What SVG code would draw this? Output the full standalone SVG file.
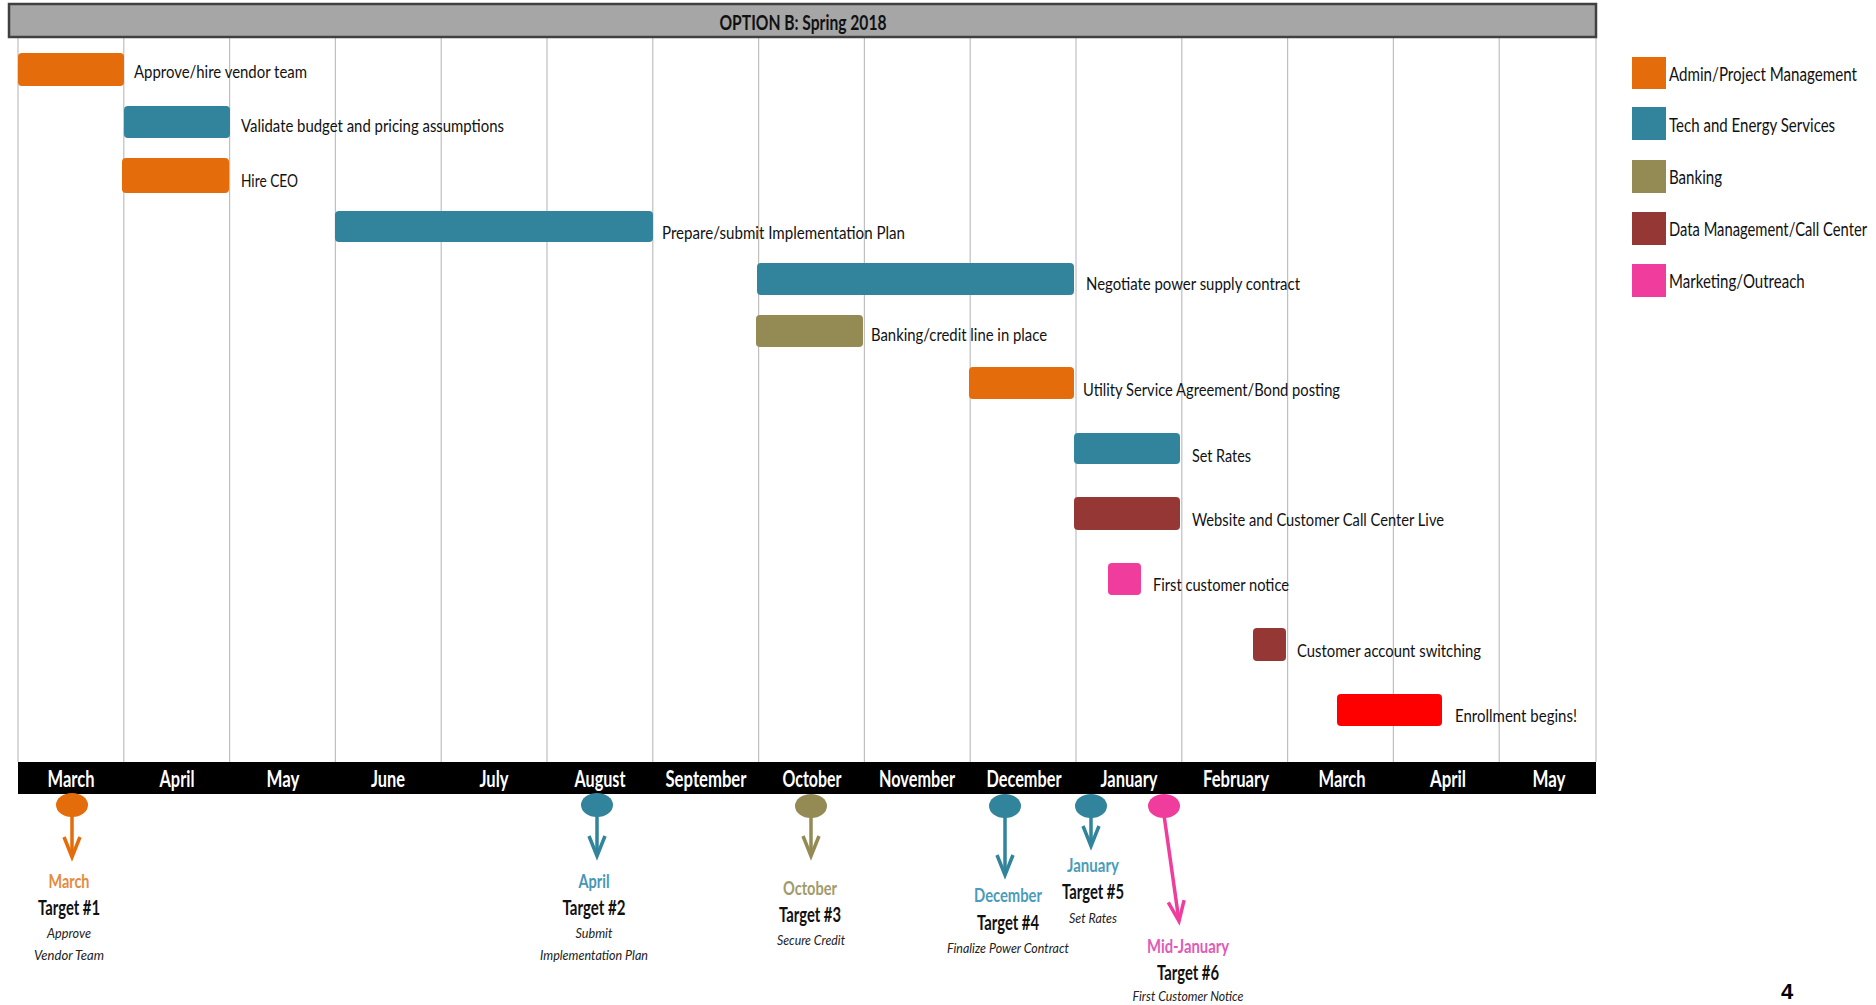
<svg xmlns="http://www.w3.org/2000/svg" width="1876" height="1005" viewBox="0 0 1876 1005">
<style>
text{font-family:Lato,"Open Sans","Liberation Sans",sans-serif}
.lbl{font-size:18px;fill:#111}
.leg{font-size:20px;fill:#111}
.mon{font-size:22px;font-weight:bold;fill:#fff;text-anchor:middle}
.grid{stroke:#bfbfbf;stroke-width:1.2}
.bar{rx:4;ry:4}
.org{fill:#e46c0a}.teal{fill:#31849b}.olv{fill:#948a54}.dred{fill:#953735}.pink{fill:#f03c9c}.red{fill:#ff0000}
.mh{font-size:18px;font-weight:bold;text-anchor:middle}
.tg{font-size:20px;font-weight:bold;fill:#111;text-anchor:middle}
.it{font-size:14px;font-style:italic;fill:#222;text-anchor:middle}
.arr{fill:none;stroke-width:3.5}
</style>
<defs>
<marker id="mOrg" markerUnits="userSpaceOnUse" markerWidth="1" markerHeight="1" orient="auto" overflow="visible"><path d="M-20,-8 L0,0 L-20,8" fill="none" stroke="#e46c0a" stroke-width="3.5"/></marker>
<marker id="mTeal" markerUnits="userSpaceOnUse" markerWidth="1" markerHeight="1" orient="auto" overflow="visible"><path d="M-20,-8 L0,0 L-20,8" fill="none" stroke="#31849b" stroke-width="3.5"/></marker>
<marker id="mOlv" markerUnits="userSpaceOnUse" markerWidth="1" markerHeight="1" orient="auto" overflow="visible"><path d="M-20,-8 L0,0 L-20,8" fill="none" stroke="#948a54" stroke-width="3.5"/></marker>
<marker id="mPink" markerUnits="userSpaceOnUse" markerWidth="1" markerHeight="1" orient="auto" overflow="visible"><path d="M-20,-8 L0,0 L-20,8" fill="none" stroke="#f03c9c" stroke-width="3.5"/></marker>
</defs>
<rect width="1876" height="1005" fill="#fff"/>

<g id="grid">
<line class="grid" x1="18" y1="37" x2="18" y2="762"/>
<line class="grid" x1="123.8" y1="37" x2="123.8" y2="762"/>
<line class="grid" x1="229.6" y1="37" x2="229.6" y2="762"/>
<line class="grid" x1="335.4" y1="37" x2="335.4" y2="762"/>
<line class="grid" x1="441.2" y1="37" x2="441.2" y2="762"/>
<line class="grid" x1="547" y1="37" x2="547" y2="762"/>
<line class="grid" x1="652.8" y1="37" x2="652.8" y2="762"/>
<line class="grid" x1="758.6" y1="37" x2="758.6" y2="762"/>
<line class="grid" x1="864.4" y1="37" x2="864.4" y2="762"/>
<line class="grid" x1="970.2" y1="37" x2="970.2" y2="762"/>
<line class="grid" x1="1076" y1="37" x2="1076" y2="762"/>
<line class="grid" x1="1181.8" y1="37" x2="1181.8" y2="762"/>
<line class="grid" x1="1287.6" y1="37" x2="1287.6" y2="762"/>
<line class="grid" x1="1393.4" y1="37" x2="1393.4" y2="762"/>
<line class="grid" x1="1499.2" y1="37" x2="1499.2" y2="762"/>
<line class="grid" x1="1596" y1="37" x2="1596" y2="762"/>
</g>

<g id="header">
<rect x="9" y="4" width="1587" height="33" fill="#a6a6a6" stroke="#404040" stroke-width="2.5"/>
<text x="803" y="30" font-size="21" font-weight="bold" fill="#111" text-anchor="middle" textLength="167" lengthAdjust="spacingAndGlyphs">OPTION B: Spring 2018</text>
</g>

<g id="task-1"><rect class="bar org" x="18" y="53" width="106" height="33"/><text class="lbl" x="134" y="78" textLength="173" lengthAdjust="spacingAndGlyphs">Approve/hire vendor team</text></g>
<g id="task-2"><rect class="bar teal" x="124" y="106" width="106" height="32"/><text class="lbl" x="241" y="132" textLength="263" lengthAdjust="spacingAndGlyphs">Validate budget and pricing assumptions</text></g>
<g id="task-3"><rect class="bar org" x="122" y="158" width="107" height="35"/><text class="lbl" x="241" y="187" textLength="57" lengthAdjust="spacingAndGlyphs">Hire CEO</text></g>
<g id="task-4"><rect class="bar teal" x="335" y="211" width="318" height="31"/><text class="lbl" x="662" y="239" textLength="243" lengthAdjust="spacingAndGlyphs">Prepare/submit Implementation Plan</text></g>
<g id="task-5"><rect class="bar teal" x="757" y="263" width="317" height="32"/><text class="lbl" x="1086" y="290" textLength="214" lengthAdjust="spacingAndGlyphs">Negotiate power supply contract</text></g>
<g id="task-6"><rect class="bar olv" x="756" y="315" width="107" height="32"/><text class="lbl" x="871" y="341" textLength="176" lengthAdjust="spacingAndGlyphs">Banking/credit line in place</text></g>
<g id="task-7"><rect class="bar org" x="969" y="367" width="105" height="32"/><text class="lbl" x="1083" y="396" textLength="257" lengthAdjust="spacingAndGlyphs">Utility Service Agreement/Bond posting</text></g>
<g id="task-8"><rect class="bar teal" x="1074" y="433" width="106" height="31"/><text class="lbl" x="1192" y="462" textLength="59" lengthAdjust="spacingAndGlyphs">Set Rates</text></g>
<g id="task-9"><rect class="bar dred" x="1074" y="497" width="106" height="33"/><text class="lbl" x="1192" y="526" textLength="252" lengthAdjust="spacingAndGlyphs">Website and Customer Call Center Live</text></g>
<g id="task-10"><rect class="bar pink" x="1108" y="563" width="33" height="32"/><text class="lbl" x="1153" y="591" textLength="136" lengthAdjust="spacingAndGlyphs">First customer notice</text></g>
<g id="task-11"><rect class="bar dred" x="1253" y="628" width="33" height="33"/><text class="lbl" x="1297" y="657" textLength="184" lengthAdjust="spacingAndGlyphs">Customer account switching</text></g>
<g id="task-12"><rect class="bar red" x="1337" y="694" width="105" height="32"/><text class="lbl" x="1455" y="722" textLength="122" lengthAdjust="spacingAndGlyphs">Enrollment begins!</text></g>

<g id="months">
<rect x="18" y="762" width="1578" height="32" fill="#000"/>
<text class="mon" x="71" y="787" textLength="47" lengthAdjust="spacingAndGlyphs">March</text>
<text class="mon" x="177" y="787" textLength="35" lengthAdjust="spacingAndGlyphs">April</text>
<text class="mon" x="283" y="787" textLength="33" lengthAdjust="spacingAndGlyphs">May</text>
<text class="mon" x="388" y="787" textLength="34" lengthAdjust="spacingAndGlyphs">June</text>
<text class="mon" x="494" y="787" textLength="29" lengthAdjust="spacingAndGlyphs">July</text>
<text class="mon" x="600" y="787" textLength="51" lengthAdjust="spacingAndGlyphs">August</text>
<text class="mon" x="706" y="787" textLength="81" lengthAdjust="spacingAndGlyphs">September</text>
<text class="mon" x="812" y="787" textLength="59" lengthAdjust="spacingAndGlyphs">October</text>
<text class="mon" x="917" y="787" textLength="76" lengthAdjust="spacingAndGlyphs">November</text>
<text class="mon" x="1024" y="787" textLength="75" lengthAdjust="spacingAndGlyphs">December</text>
<text class="mon" x="1129" y="787" textLength="57" lengthAdjust="spacingAndGlyphs">January</text>
<text class="mon" x="1236" y="787" textLength="66" lengthAdjust="spacingAndGlyphs">February</text>
<text class="mon" x="1342" y="787" textLength="47" lengthAdjust="spacingAndGlyphs">March</text>
<text class="mon" x="1448" y="787" textLength="36" lengthAdjust="spacingAndGlyphs">April</text>
<text class="mon" x="1549" y="787" textLength="33" lengthAdjust="spacingAndGlyphs">May</text>
</g>

<g id="legend-admin"><rect class="org" x="1632" y="57" width="34" height="32"/><text class="leg" transform="translate(1669,81) scale(0.78,1)" x="0" y="0" textLength="241" lengthAdjust="spacingAndGlyphs">Admin/Project Management</text></g>
<g id="legend-tech"><rect class="teal" x="1632" y="107" width="34" height="33"/><text class="leg" transform="translate(1669,132) scale(0.78,1)" x="0" y="0" textLength="213" lengthAdjust="spacingAndGlyphs">Tech and Energy Services</text></g>
<g id="legend-banking"><rect class="olv" x="1632" y="160" width="34" height="33"/><text class="leg" transform="translate(1669,184) scale(0.78,1)" x="0" y="0" textLength="68" lengthAdjust="spacingAndGlyphs">Banking</text></g>
<g id="legend-data"><rect class="dred" x="1632" y="212" width="34" height="33"/><text class="leg" transform="translate(1669,236) scale(0.78,1)" x="0" y="0" textLength="254" lengthAdjust="spacingAndGlyphs">Data Management/Call Center</text></g>
<g id="legend-marketing"><rect class="pink" x="1632" y="264" width="34" height="33"/><text class="leg" transform="translate(1669,288) scale(0.78,1)" x="0" y="0" textLength="174" lengthAdjust="spacingAndGlyphs">Marketing/Outreach</text></g>

<g id="connectors">
<path class="arr" stroke="#e46c0a" d="M72,815 L72,857" marker-end="url(#mOrg)"/>
<path class="arr" stroke="#31849b" d="M597,815 L597,856" marker-end="url(#mTeal)"/>
<path class="arr" stroke="#948a54" d="M811,815 L811,856" marker-end="url(#mOlv)"/>
<path class="arr" stroke="#31849b" d="M1005,815 L1005,875" marker-end="url(#mTeal)"/>
<path class="arr" stroke="#31849b" d="M1091,815 L1091,846" marker-end="url(#mTeal)"/>
<path class="arr" stroke="#f03c9c" d="M1164,815 L1179,921" marker-end="url(#mPink)"/>
</g>

<g id="milestone-1">
<ellipse cx="72" cy="805" rx="16" ry="12" fill="#e46c0a"/>
<text class="mh" x="69" y="888" fill="#e68a3c" textLength="41" lengthAdjust="spacingAndGlyphs">March</text>
<text class="tg" x="69" y="915" textLength="62" lengthAdjust="spacingAndGlyphs">Target #1</text>
<text class="it" x="69" y="938" textLength="44" lengthAdjust="spacingAndGlyphs">Approve</text>
<text class="it" x="69" y="960" textLength="70" lengthAdjust="spacingAndGlyphs">Vendor Team</text>
</g>
<g id="milestone-2">
<ellipse cx="597" cy="805" rx="16" ry="12" fill="#31849b"/>
<text class="mh" x="594" y="888" fill="#4796b3" textLength="31" lengthAdjust="spacingAndGlyphs">April</text>
<text class="tg" x="594" y="915" textLength="63" lengthAdjust="spacingAndGlyphs">Target #2</text>
<text class="it" x="594" y="938" textLength="37" lengthAdjust="spacingAndGlyphs">Submit</text>
<text class="it" x="594" y="960" textLength="108" lengthAdjust="spacingAndGlyphs">Implementation Plan</text>
</g>
<g id="milestone-3">
<ellipse cx="811" cy="806" rx="16" ry="12" fill="#948a54"/>
<text class="mh" x="810" y="895" fill="#a19b6c" textLength="54" lengthAdjust="spacingAndGlyphs">October</text>
<text class="tg" x="810" y="922" textLength="62" lengthAdjust="spacingAndGlyphs">Target #3</text>
<text class="it" x="811" y="945" textLength="68" lengthAdjust="spacingAndGlyphs">Secure Credit</text>
</g>
<g id="milestone-4">
<ellipse cx="1005" cy="806" rx="16" ry="12" fill="#31849b"/>
<text class="mh" x="1008" y="902" fill="#4a9cbb" textLength="68" lengthAdjust="spacingAndGlyphs">December</text>
<text class="tg" x="1008" y="930" textLength="62" lengthAdjust="spacingAndGlyphs">Target #4</text>
<text class="it" x="1008" y="953" textLength="122" lengthAdjust="spacingAndGlyphs">Finalize Power Contract</text>
</g>
<g id="milestone-5">
<ellipse cx="1091" cy="806" rx="16" ry="12" fill="#31849b"/>
<text class="mh" x="1093" y="872" fill="#4a9cbb" textLength="52" lengthAdjust="spacingAndGlyphs">January</text>
<text class="tg" x="1093" y="899" textLength="62" lengthAdjust="spacingAndGlyphs">Target #5</text>
<text class="it" x="1093" y="923" textLength="48" lengthAdjust="spacingAndGlyphs">Set Rates</text>
</g>
<g id="milestone-6">
<ellipse cx="1164" cy="806" rx="16" ry="12" fill="#f03c9c"/>
<text class="mh" x="1188" y="953" fill="#e05ab6" textLength="82" lengthAdjust="spacingAndGlyphs">Mid-January</text>
<text class="tg" x="1188" y="980" textLength="62" lengthAdjust="spacingAndGlyphs">Target #6</text>
<text class="it" x="1188" y="1001" textLength="111" lengthAdjust="spacingAndGlyphs">First Customer Notice</text>
</g>

<text id="page-number" x="1787" y="999" font-size="22" font-weight="bold" fill="#000" text-anchor="middle" style="font-family:'Liberation Sans',Arial,sans-serif">4</text>
</svg>
